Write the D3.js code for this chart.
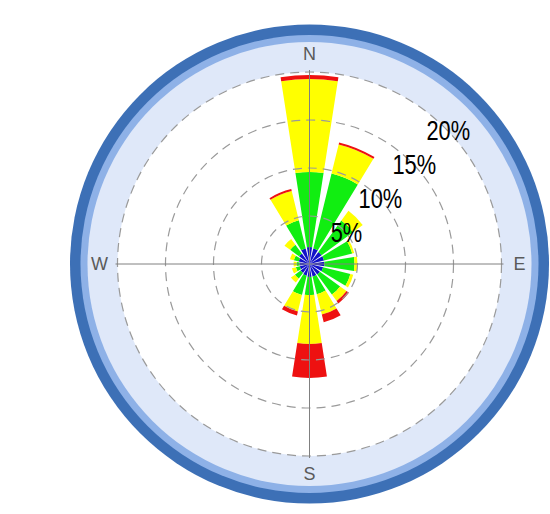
<!DOCTYPE html>
<html>
<head>
<meta charset="utf-8">
<script src="https://cdn.jsdelivr.net/npm/d3@7"></script>
<style>
  html, body { margin: 0; padding: 0; background: #fff; }
  svg { display: block; }
</style>
</head>
<body>
<svg id="chart" width="550" height="514"></svg>
<script>
// ---- data ----
const directions = ["N","NNE","NE","ENE","E","ESE","SE","SSE","S","SSW","SW","WSW","W","WNW","NW","NNW"];
const speedClasses = ["class1","class2","class3","class4"];
const class1 = [1.77,1.67,1.56,1.56,1.56,1.46,1.35,1.35,1.35,1.25,1.15,1.04,1.04,1.15,1.35,1.67];
const class2 = [7.81,8.02,4.06,3.02,3.13,2.92,2.60,1.88,1.88,2.08,0.73,0.42,0.31,0.52,1.15,3.02];
const class3 = [9.69,3.13,1.25,0.21,0.31,0.31,0.83,2.19,5.10,1.77,0.52,0.42,0.31,0.42,0.73,3.13];
const class4 = [0.42,0.21,0.00,0.00,0.00,0.00,0.31,0.83,3.54,0.42,0.00,0.00,0.00,0.00,0.00,0.21];
const ringTicks = [5, 10, 15, 20];
const ringLabels = ["5%", "10%", "15%", "20%"];
const compass = ["N", "E", "S", "W"];
const compassAngles = [0, 90, 180, 270];

// ---- layout ----
const cx = 309.5, cy = 264;
const colors = ["#1212c8", "#11ee11", "#ffff00", "#ee1111"];
const rScale = d3.scaleLinear().domain([0, 20]).range([0, 192]);
const aScale = d3.scaleLinear().domain([0, directions.length]).range([0, 2 * Math.PI]);
const halfW = 8.8 * Math.PI / 180;

const table = directions.map((d, i) => ({
  dir: d, class1: class1[i], class2: class2[i], class3: class3[i], class4: class4[i]
}));
const stacked = d3.stack().keys(speedClasses)(table);

const svg = d3.select("#chart");
const g = svg.append("g").attr("transform", `translate(${cx},${cy})`);

// background rings
g.append("circle").attr("r", 239.5).attr("fill", "#3d70b6");
g.append("circle").attr("r", 229).attr("fill", "#8eb1e7");
g.append("circle").attr("r", 222).attr("fill", "#dfe8f9");
g.append("circle").attr("r", rScale(20)).attr("fill", "#ffffff");

// bars
const arc = d3.arc();
stacked.forEach((layer, k) => {
  g.append("g").selectAll("path")
    .data(layer)
    .join("path")
    .attr("d", (d, i) => arc({
      innerRadius: rScale(d[0]),
      outerRadius: rScale(d[1]),
      startAngle: aScale(i) - halfW,
      endAngle: aScale(i) + halfW
    }))
    .attr("fill", colors[k]);
});

// grid rings
g.append("g").selectAll("circle")
  .data(ringTicks)
  .join("circle")
  .attr("r", d => rScale(d))
  .attr("fill", "none")
  .attr("stroke", "#9a9a9a")
  .attr("stroke-width", 1.2)
  .attr("stroke-dasharray", "9,6");

// axes
const rMax = rScale(20) + 2;
g.append("line").attr("x1", -rMax).attr("x2", rMax).attr("y1", 0).attr("y2", 0)
  .attr("stroke", "#808080").attr("stroke-width", 1);
g.append("line").attr("y1", -rMax).attr("y2", rMax).attr("x1", 0).attr("x2", 0)
  .attr("stroke", "#808080").attr("stroke-width", 1);

// compass labels
g.append("g").selectAll("text")
  .data(compass)
  .join("text")
  .attr("x", (d, i) => 210 * Math.sin(compassAngles[i] * Math.PI / 180))
  .attr("y", (d, i) => -210 * Math.cos(compassAngles[i] * Math.PI / 180))
  .attr("text-anchor", "middle")
  .attr("dominant-baseline", "central")
  .attr("font-family", "Liberation Sans, Arial, sans-serif")
  .attr("font-size", 18)
  .attr("fill", "#5a5a5a")
  .text(d => d);

// ring labels
g.append("g").selectAll("text")
  .data(ringTicks)
  .join("text")
  .attr("transform", d => {
    const r = rScale(d);
    const x = r * Math.SQRT1_2 + 3, y = -r * Math.SQRT1_2 + 2;
    return `translate(${x},${y}) scale(0.78,1)`;
  })
  .attr("text-anchor", "middle")
  .attr("dominant-baseline", "central")
  .attr("font-family", "Liberation Sans Narrow, Arial Narrow, sans-serif")
  .attr("font-size", 28)
  .attr("fill", "#000")
  .text((d, i) => ringLabels[i]);
</script>
</body>
</html>
